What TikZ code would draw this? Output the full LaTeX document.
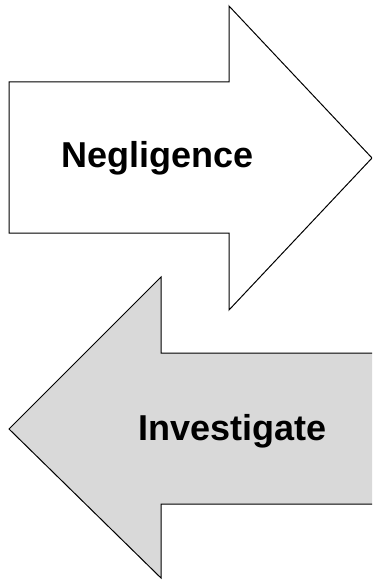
\documentclass[tikz,border=0pt]{standalone}
\usepackage{fontspec}
\setmainfont{Liberation Sans}
\usetikzlibrary{positioning}
\definecolor{arrowgray}{HTML}{D9D9D9}

\begin{document}
\begin{tikzpicture}[x=1pt,y=-1pt]
  \useasboundingbox (0,0) rectangle (372,580);
  \clip (0,0) rectangle (372,580);
  % right arrow
  \draw[line width=1pt,fill=white] (9,82) -- (229,82) -- (229,6) -- (372,158)
    -- (229,310) -- (229,233) -- (9,233) -- cycle;
  % left arrow, body runs off the right edge
  \draw[line width=1pt,fill=arrowgray] (373,353) -- (161,353) -- (161,277)
    -- (9,429) -- (161,578) -- (161,504) -- (373,504);
  \node[font=\bfseries\fontsize{36}{40}\selectfont] (negl) at (157.5,158) {Negligence};
  \node[font=\bfseries\fontsize{36}{40}\selectfont] (inv) at (232.5,431) {Investigate};
\end{tikzpicture}
\end{document}
